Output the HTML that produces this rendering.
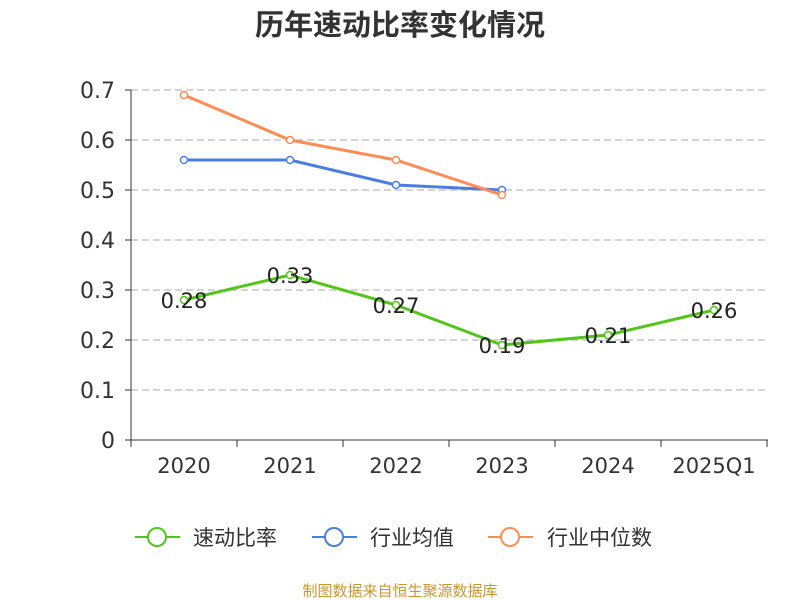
<!DOCTYPE html>
<html><head><meta charset="utf-8"><style>
body{margin:0;background:#fff;}
svg{display:block;font-family:"DejaVu Sans","Noto Sans CJK SC",sans-serif;}
</style></head><body>
<svg id="c" width="800" height="600">
<text x="400" y="35" text-anchor="middle" font-size="29" font-weight="bold" fill="#333" font-family="'Noto Sans CJK SC',sans-serif">历年速动比率变化情况</text>
<g id="grid"></g><g id="axes"></g><g id="series"></g>
<g font-family="'Noto Sans CJK SC',sans-serif">
<g><line x1="135" y1="537" x2="180" y2="537" stroke="#52c41a" stroke-width="2"/><circle cx="157" cy="537" r="9" fill="#fff" stroke="#52c41a" stroke-width="2"/><text x="193" y="545" font-size="21" fill="#333">速动比率</text></g>
<g><line x1="312" y1="537" x2="357" y2="537" stroke="#4a7fe0" stroke-width="2"/><circle cx="334" cy="537" r="9" fill="#fff" stroke="#4a7fe0" stroke-width="2"/><text x="370" y="545" font-size="21" fill="#333">行业均值</text></g>
<g><line x1="488" y1="537" x2="533" y2="537" stroke="#ff8c55" stroke-width="2"/><circle cx="510" cy="537" r="9" fill="#fff" stroke="#ff8c55" stroke-width="2"/><text x="547" y="545" font-size="21" fill="#333">行业中位数</text></g>
</g>
<text x="400" y="596" text-anchor="middle" font-size="15" fill="#c8962e" font-family="'Noto Sans CJK SC',sans-serif">制图数据来自恒生聚源数据库</text>
</svg>
<script>
const categories=["2020","2021","2022","2023","2024","2025Q1"];
const quickRatio=[0.28,0.33,0.27,0.19,0.21,0.26];
const industryMean=[0.56,0.56,0.51,0.50];
const industryMedian=[0.69,0.60,0.56,0.49];
const yTicks=[0,0.1,0.2,0.3,0.4,0.5,0.6,0.7];
const NS="http://www.w3.org/2000/svg";
const x0=131,bw=106,yBase=440,yScale=500;
const X=i=>x0+bw*(i+0.5);
const Y=v=>yBase-v*yScale;
function mk(tag,attrs,parent,text){const e=document.createElementNS(NS,tag);for(const k in attrs)e.setAttribute(k,attrs[k]);if(text!==undefined)e.textContent=text;parent.appendChild(e);return e;}
const grid=document.getElementById('grid'),axes=document.getElementById('axes'),ser=document.getElementById('series');
yTicks.forEach(t=>{
  if(t>0){const g=mk('line',{x1:x0,x2:768,y1:Y(t),y2:Y(t),stroke:'#bbb','stroke-dasharray':'7,4','stroke-width':1.2},grid);
  
  }
  const tk=mk('line',{x1:x0-6,x2:x0,y1:Y(t),y2:Y(t),stroke:'#333'},axes);
  
  
  const lb=mk('text',{x:x0-16,y:Y(t)+8,'text-anchor':'end','font-size':22,fill:'#333'},axes,String(t));
  
  
});
const ya=mk('line',{x1:x0,x2:x0,y1:Y(0.7),y2:yBase,stroke:'#333'},axes);


const xa=mk('line',{x1:x0,x2:768,y1:yBase,y2:yBase,stroke:'#333'},axes);


for(let i=0;i<=categories.length;i++){const t=mk('line',{x1:x0+bw*i,x2:x0+bw*i,y1:yBase,y2:yBase+7,stroke:'#333'},axes);

}
categories.forEach((c,i)=>{const l=mk('text',{x:X(i),y:yBase+33,'text-anchor':'middle','font-size':21,fill:'#333'},axes,c);

});
function series(vals,color,name,labels){
  const g=mk('g',{},ser);
  
  
  const p=mk('polyline',{points:vals.map((v,i)=>X(i)+','+Y(v)).join(' '),fill:'none',stroke:color,'stroke-width':3},g);
  
  
  vals.forEach((v,i)=>{
    const c=mk('circle',{cx:X(i),cy:Y(v),r:3.5,fill:'#fff',stroke:color,'stroke-width':1.5},g);
    
    
    if(labels){const t=mk('text',{x:X(i)+0,y:Y(v)+8,'text-anchor':'middle','font-size':21,fill:'#222'},g,v.toFixed(2));
    
    }
  });
}
series(industryMean,'#4a7fe0','industry-mean-series',false);
series(industryMedian,'#ff8c55','industry-median-series',false);
series(quickRatio,'#52c41a','quick-ratio-series',true);
</script>
</body></html>
